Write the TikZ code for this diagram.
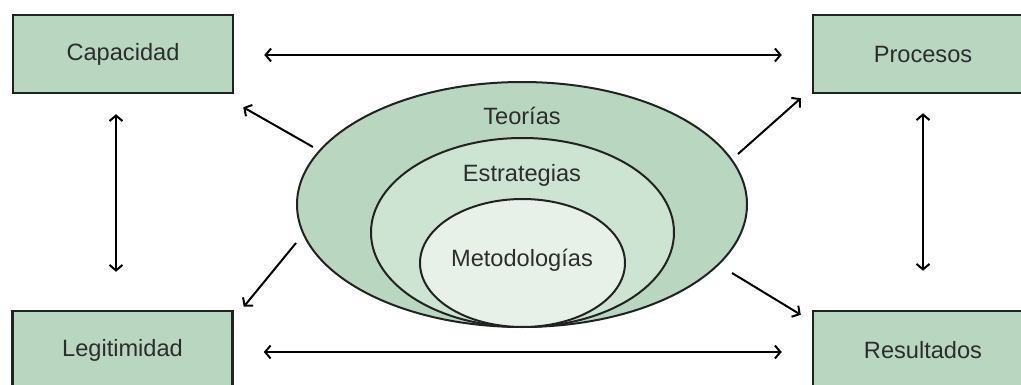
\documentclass[tikz,border=0pt]{standalone}
\usepackage{fontspec}
\setmainfont{Liberation Sans}
\usetikzlibrary{arrows.meta,shapes.geometric}
\definecolor{boxgreen}{RGB}{184,214,192}
\definecolor{midgreen}{RGB}{206,228,210}
\definecolor{ingreen}{RGB}{232,241,232}
\definecolor{txt}{RGB}{45,45,45}
\definecolor{edge}{RGB}{34,34,34}
\tikzset{
  boxnode/.style={draw=edge, line width=2.5pt, fill=boxgreen, minimum width=220pt, minimum height=78pt, inner sep=0pt, text=txt, font=\fontsize{23.6}{27}\selectfont},
  ellnode/.style={draw=edge, ellipse, line width=2pt, inner sep=0pt},
  lbl/.style={text=txt, font=\fontsize{23.6}{27}\selectfont, inner sep=0pt},
  conn/.style={line width=2pt, draw=black},
  >={Straight Barb[length=5.5pt,width=13pt]}
}
\begin{document}
\begin{tikzpicture}[x=1pt,y=-1pt]
\useasboundingbox (0,0) rectangle (1021,385);
\clip (0,0) rectangle (1021,385);
% boxes
\node[boxnode] (cap) at (123,54) {Capacidad};
\node[boxnode] (pro) at (923,54) {Procesos};
\node[boxnode] (leg) at (122.5,350) {\raisebox{4pt}{Legitimidad}};
\node[boxnode] (res) at (923,350) {Resultados};
% ellipses
\node[ellnode, fill=boxgreen, minimum width=450pt, minimum height=245pt] (teo) at (522,204.5) {};
\node[ellnode, fill=midgreen, minimum width=303pt, minimum height=189pt] (est) at (522.5,232.5) {};
\node[ellnode, fill=ingreen, minimum width=205pt, minimum height=128pt] (met) at (522.5,263) {};
\node[lbl] (teol) at (522,116) {Teorías};
\node[lbl] (estl) at (522,175) {Estrategias};
\node[lbl] (metl) at (522,260) {Metodologías};
% connector ends near the outer ellipse
\coordinate (e1) at (313,147);
\coordinate (e2) at (738,154);
\coordinate (e3) at (296,243);
\coordinate (e4) at (732,273);
% horizontal arrows
\draw[conn,<->] ([xshift=30pt,yshift=-1pt]cap.east) -- ([xshift=-30pt,yshift=-1pt]pro.west);
\draw[conn,<->] ([xshift=30pt,yshift=-2pt]leg.east) -- ([xshift=-30pt,yshift=-2pt]res.west);
% vertical arrows
\draw[conn,<->] ([xshift=-7pt,yshift=-20pt]cap.south) -- ([xshift=-6.5pt,yshift=38pt]leg.north);
\draw[conn,<->] ([yshift=-19pt]pro.south) -- ([yshift=39pt]res.north);
% diagonal arrows
\draw[conn,->] (e1) -- ([xshift=9pt,yshift=-13pt]cap.south east);
\draw[conn,->] (e2) -- ([xshift=-11pt,yshift=-4pt]pro.south west);
\draw[conn,->] (e3) -- ([xshift=10pt,yshift=3pt]leg.north east);
\draw[conn,->] (e4) -- ([xshift=-11pt,yshift=-5pt]res.north west);
\end{tikzpicture}
\end{document}
